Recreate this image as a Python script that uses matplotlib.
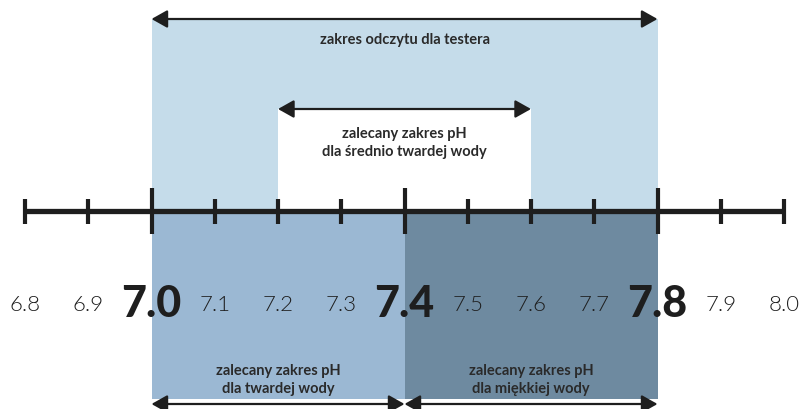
import matplotlib
matplotlib.use("Agg")
import matplotlib.pyplot as plt
import numpy as np

# pH scale values
PH_TICKS = [6.8, 6.9, 7.0, 7.1, 7.2, 7.3, 7.4, 7.5, 7.6, 7.7, 7.8, 7.9, 8.0]
MAJOR = [7.0, 7.4, 7.8]

# ranges
TESTER_RANGE = (7.0, 7.8)
MEDIUM_RANGE = (7.2, 7.6)
HARD_RANGE = (7.0, 7.4)
SOFT_RANGE = (7.4, 7.8)

TESTER_LABEL = "zakres odczytu dla testera"
MEDIUM_LABEL = "zalecany zakres pH\ndla średnio twardej wody"
HARD_LABEL = "zalecany zakres pH\ndla twardej wody"
SOFT_LABEL = "zalecany zakres pH\ndla miękkiej wody"

LIGHT, MID, DARK, INK = "#C5DCEA", "#9BB8D3", "#6E8AA0", "#1E1E1E"

fig = plt.figure(figsize=(8.05, 4.10), dpi=100)
ax = fig.add_axes([0, 0, 1, 1])
ax.set_xlim(6.8 - 25 / 632.5, 6.8 + 780 / 632.5)
ax.set_ylim(410, 0)
ax.axis("off")

AXIS_Y = 212
TOP_Y, INNER_Y, BOT_Y = 20, 110, 400

# shaded regions
ax.fill_between(TESTER_RANGE, TOP_Y, AXIS_Y, color=LIGHT, lw=0)
ax.fill_between(MEDIUM_RANGE, INNER_Y, AXIS_Y, color="white", lw=0)
ax.fill_between(HARD_RANGE, AXIS_Y, BOT_Y, color=MID, lw=0)
ax.fill_between(SOFT_RANGE, AXIS_Y, BOT_Y, color=DARK, lw=0)

# scale line and ticks
ax.hlines(AXIS_Y, PH_TICKS[0], PH_TICKS[-1], color=INK, lw=3.8, capstyle="butt")
minor = [v for v in PH_TICKS if v not in MAJOR]
ax.vlines(minor, 200, 225, color=INK, lw=3.0, capstyle="butt")
ax.vlines(MAJOR, 189, 235, color=INK, lw=3.0, capstyle="butt")

# tick labels
for v in PH_TICKS:
    if v in MAJOR:
        ax.text(v, 304, f"{v:.1f}", ha="center", va="center", fontsize=31,
                fontweight="black", family="Lato", color=INK)
    else:
        ax.text(v, 305, f"{v:.1f}", ha="center", va="center", fontsize=16,
                fontweight=300, family="Lato", color=INK)

# arrows
def arrow(x0, x1, y):
    ax.annotate("", xy=(x1, y), xytext=(x0, y),
                arrowprops=dict(arrowstyle="<|-|>,head_length=0.8,head_width=0.45",
                                mutation_scale=12, color=INK, lw=1.6,
                                shrinkA=0, shrinkB=0))

arrow(*TESTER_RANGE, TOP_Y)
arrow(*MEDIUM_RANGE, INNER_Y)
arrow(*HARD_RANGE, 405)
arrow(*SOFT_RANGE, 405)

lbl = dict(ha="center", va="center", fontsize=10.5, fontweight="bold",
           family="Lato", color="#2A2A2A", linespacing=1.3)
ax.text(np.mean(TESTER_RANGE), 40, TESTER_LABEL, **lbl)
ax.text(np.mean(MEDIUM_RANGE), 143, MEDIUM_LABEL, **lbl)
ax.text(np.mean(HARD_RANGE), 380, HARD_LABEL, **lbl)
ax.text(np.mean(SOFT_RANGE), 380, SOFT_LABEL, **lbl)

fig.savefig("out.png", dpi=100)
